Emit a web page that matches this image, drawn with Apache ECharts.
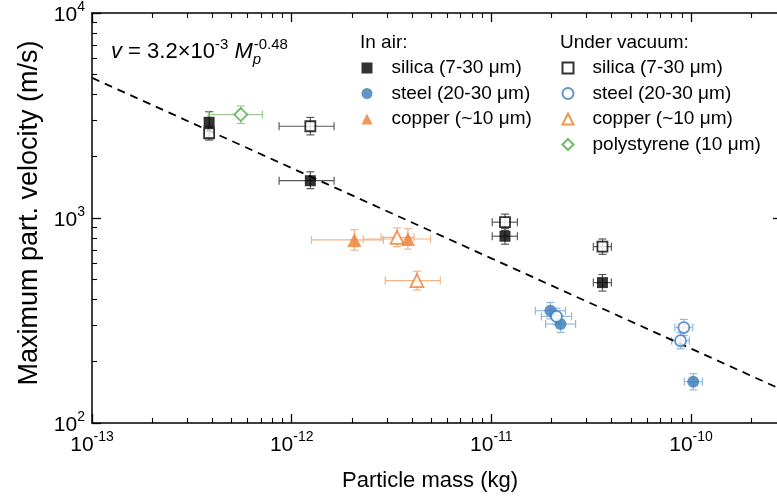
<!DOCTYPE html>
<html><head><meta charset="utf-8">
<script src="https://cdn.jsdelivr.net/npm/echarts@6/dist/echarts.min.js"></script>
<style>html,body{margin:0;padding:0;background:#fff}#c{width:777px;height:498px}</style>
</head><body><div id="c"></div>
<script>
const FONT = '"Liberation Sans", Arial, Helvetica, sans-serif';

// ---- axis ranges & ticks ----
const xRange = [1e-13, 2.757e-10];
const yRange = [100, 10000];
const xMajorTicks = [1e-13, 1e-12, 1e-11, 1e-10];
const xMinorTicks = [2e-13,3e-13,4e-13,5e-13,6e-13,7e-13,8e-13,9e-13,
                     2e-12,3e-12,4e-12,5e-12,6e-12,7e-12,8e-12,9e-12,
                     2e-11,3e-11,4e-11,5e-11,6e-11,7e-11,8e-11,9e-11,
                     2e-10];
const yMajorTicks = [100, 1000, 10000];
const yMinorTicks = [200,300,400,500,600,700,800,900,2000,3000,4000,5000,6000,7000,8000,9000];

// ---- data (mass kg, velocity m/s, error bounds) ----
// In air: silica
const airSilicaMass   = [3.86e-13, 1.24e-12, 1.17e-11, 3.60e-11];
const airSilicaVel    = [2930, 1520, 815, 484];
const airSilicaMassLo = [3.86e-13, 8.65e-13, 1.01e-11, 3.24e-11];
const airSilicaMassHi = [3.86e-13, 1.63e-12, 1.35e-11, 3.99e-11];
const airSilicaVelLo  = [2650, 1390, 745, 440];
const airSilicaVelHi  = [3300, 1680, 890, 530];
// In air: steel
const airSteelMass   = [1.975e-11, 2.22e-11, 1.026e-10];
const airSteelVel    = [353, 304, 159];
const airSteelMassLo = [1.66e-11, 1.87e-11, 9.25e-11];
const airSteelMassHi = [2.35e-11, 2.64e-11, 1.14e-10];
const airSteelVelLo  = [322, 277, 145];
const airSteelVelHi  = [387, 333, 174];
// In air: copper
const airCopperMass   = [2.06e-12, 3.82e-12];
const airCopperVel    = [782, 790];
const airCopperMassLo = [1.256e-12, 2.28e-12];
const airCopperMassHi = [2.88e-12, 4.96e-12];
const airCopperVelLo  = [697, 705];
const airCopperVelHi  = [877, 886];
// Vacuum: silica
const vacSilicaMass   = [3.86e-13, 1.24e-12, 1.17e-11, 3.60e-11];
const vacSilicaVel    = [2590, 2802, 954, 725];
const vacSilicaMassLo = [3.86e-13, 8.65e-13, 1.01e-11, 3.24e-11];
const vacSilicaMassHi = [3.86e-13, 1.63e-12, 1.35e-11, 3.99e-11];
const vacSilicaVelLo  = [2400, 2544, 870, 665];
const vacSilicaVelHi  = [2800, 3095, 1045, 790];
// Vacuum: steel
const vacSteelMass   = [2.12e-11, 9.2e-11, 8.86e-11];
const vacSteelVel    = [331, 292, 252];
const vacSteelMassLo = [1.78e-11, 8.3e-11, 8.0e-11];
const vacSteelMassHi = [2.52e-11, 1.02e-10, 9.8e-11];
const vacSteelVelLo  = [302, 267, 230];
const vacSteelVelHi  = [363, 320, 276];
// Vacuum: copper
const vacCopperMass   = [3.37e-12, 4.24e-12];
const vacCopperVel    = [805, 495];
const vacCopperMassLo = [2.8e-12, 2.94e-12];
const vacCopperMassHi = [4.1e-12, 5.55e-12];
const vacCopperVelLo  = [725, 445];
const vacCopperVelHi  = [895, 550];
// Vacuum: polystyrene
const vacPsMass   = [5.56e-13];
const vacPsVel    = [3197];
const vacPsMassLo = [3.82e-13];
const vacPsMassHi = [7.13e-13];
const vacPsVelLo  = [2890];
const vacPsVelHi  = [3520];
// Fit line endpoints
const fitMass = [1e-13, 2.757e-10];
const fitVel  = [4830, 147.5];

const legendLabels = {
  'air-silica': 'silica (7-30 \u03bcm)',
  'air-steel': 'steel (20-30 \u03bcm)',
  'air-copper': 'copper (~10 \u03bcm)',
  'vac-silica': 'silica (7-30 \u03bcm)',
  'vac-steel': 'steel (20-30 \u03bcm)',
  'vac-copper': 'copper (~10 \u03bcm)',
  'vac-ps': 'polystyrene (10 \u03bcm)'
};

const C_BLACK = '#000000', C_BLUE = '#3A7BBA', C_ORANGE = '#EE7D32', C_GREEN = '#4FA84A';
const E_BLACK = '#5a5a5a', E_BLUE = '#93B8DE', E_ORANGE = '#F3B489', E_GREEN = '#9ECD90';

function pts(m, v) { return m.map((x, i) => [x, v[i]]); }
function errRows(m, v, ml, mh, vl, vh) { return m.map((x, i) => [x, v[i], ml[i], mh[i], vl[i], vh[i]]); }

function makeErr(color) {
  return function (params, api) {
    const x = api.value(0), y = api.value(1);
    const a = api.coord([api.value(2), y]), b = api.coord([api.value(3), y]);
    const lo = api.coord([x, api.value(4)]), hi = api.coord([x, api.value(5)]);
    const cap = 4;
    const st = { stroke: color, lineWidth: 1.2 };
    const ch = [];
    if (b[0] - a[0] > 1) {
      ch.push({ type: 'line', shape: { x1: a[0], y1: a[1], x2: b[0], y2: b[1] }, style: st });
      ch.push({ type: 'line', shape: { x1: a[0], y1: a[1] - cap, x2: a[0], y2: a[1] + cap }, style: st });
      ch.push({ type: 'line', shape: { x1: b[0], y1: b[1] - cap, x2: b[0], y2: b[1] + cap }, style: st });
    }
    if (lo[1] - hi[1] > 1) {
      ch.push({ type: 'line', shape: { x1: lo[0], y1: lo[1], x2: hi[0], y2: hi[1] }, style: st });
      ch.push({ type: 'line', shape: { x1: lo[0] - cap, y1: lo[1], x2: lo[0] + cap, y2: lo[1] }, style: st });
      ch.push({ type: 'line', shape: { x1: hi[0] - cap, y1: hi[1], x2: hi[0] + cap, y2: hi[1] }, style: st });
    }
    return { type: 'group', children: ch };
  };
}
function errSeries(color, rows) {
  return { type: 'custom', renderItem: makeErr(color), data: rows, encode: { x: 0, y: 1 },
           z: 1, silent: true, animation: false };
}
function scat(name, symbol, size, color, filled, data) {
  return { name, type: 'scatter', symbol, symbolSize: size, data, z: 3, animation: false,
           emphasis: { disabled: true },
           itemStyle: filled ? { color: color, borderWidth: 0 }
                             : { color: '#ffffff', borderColor: color, borderWidth: 1.8 } };
}

function expLabel(v) {
  const e = Math.round(Math.log10(v));
  return '{b|10}{s|' + e + '}';
}
const labelRich = {
  b: { fontSize: 21, fontFamily: FONT, color: '#000', lineHeight: 26, verticalAlign: 'bottom' },
  s: { fontSize: 14, fontFamily: FONT, color: '#000', lineHeight: 12, verticalAlign: 'top' }
};

function logAxis(extra, range) {
  return Object.assign({ type: 'log', logBase: 10, min: range[0], max: range[1],
    splitLine: { show: false }, minorTick: { show: false }, minorSplitLine: { show: false } }, extra);
}
const axLine = { show: true, lineStyle: { color: '#000', width: 1.5 } };
const noLine = { show: false };
const majTick = (vals) => ({ show: true, inside: true, length: 9, customValues: vals, lineStyle: { color: '#000', width: 1.3 } });
const minTick = (vals) => ({ show: true, inside: true, length: 5, customValues: vals, lineStyle: { color: '#000', width: 1.1 } });
const noLabel = { show: false };

const option = {
  backgroundColor: '#fff',
  animation: false,
  grid: { left: 92, top: 13, right: -2, bottom: 75, outerBoundsMode: 'none', containLabel: false },
  xAxis: [
    logAxis({ position: 'bottom', axisLine: axLine, axisTick: majTick(xMajorTicks),
      axisLabel: { show: true, customValues: xMajorTicks, formatter: expLabel, rich: labelRich, margin: 7 } }, xRange),
    logAxis({ position: 'bottom', axisLine: noLine, axisTick: minTick(xMinorTicks), axisLabel: noLabel }, xRange),
    logAxis({ position: 'top', axisLine: axLine, axisTick: majTick(xMajorTicks), axisLabel: noLabel }, xRange),
    logAxis({ position: 'top', axisLine: noLine, axisTick: minTick(xMinorTicks), axisLabel: noLabel }, xRange)
  ],
  yAxis: [
    logAxis({ position: 'left', axisLine: axLine, axisTick: majTick(yMajorTicks),
      axisLabel: { show: true, customValues: yMajorTicks, formatter: expLabel, rich: labelRich, margin: 7 } }, yRange),
    logAxis({ position: 'left', axisLine: noLine, axisTick: minTick(yMinorTicks), axisLabel: noLabel }, yRange),
    logAxis({ position: 'right', axisLine: noLine, axisTick: { show: true, inside: true, length: 6, customValues: [1000],
      lineStyle: { color: '#000', width: 1.3 } }, axisLabel: noLabel }, yRange)
  ],
  legend: [
    { data: ['air-silica', 'air-steel', 'air-copper'], orient: 'vertical', left: 361.5, top: 57,
      itemWidth: 11, itemHeight: 11, itemGap: 3.5, padding: 0, selectedMode: false,
      formatter: n => legendLabels[n],
      textStyle: { fontSize: 19, lineHeight: 22, fontFamily: FONT, color: '#000', padding: [0, 0, 0, 14] } },
    { data: ['vac-silica', 'vac-steel', 'vac-copper', 'vac-ps'], orient: 'vertical', left: 561.5, top: 57,
      itemWidth: 11, itemHeight: 11, itemGap: 3.5, padding: 0, selectedMode: false,
      formatter: n => legendLabels[n],
      textStyle: { fontSize: 19, lineHeight: 22, fontFamily: FONT, color: '#000', padding: [0, 0, 0, 14] } }
  ],
  graphic: [
    { type: 'text', left: 360, top: 33, style: { text: 'In air:', fontSize: 19, fontFamily: FONT, fill: '#000' } },
    { type: 'text', left: 560, top: 33, style: { text: 'Under vacuum:', fontSize: 19, fontFamily: FONT, fill: '#000' } },
    { type: 'text', x: 430, y: 481, style: { text: 'Particle mass (kg)', fontSize: 22, fontFamily: FONT, fill: '#000',
        align: 'center', verticalAlign: 'middle' } },
    { type: 'text', x: 30, y: 213, rotation: Math.PI / 2, style: { text: 'Maximum part. velocity (m/s)', fontSize: 27,
        fontFamily: FONT, fill: '#000', align: 'center', verticalAlign: 'middle' } },
    { type: 'text', x: 111, y: 52, style: {
        text: '{i|v}{n| = 3.2×10}{s|-3}{n| }{i|M}{p|p}{s|-0.48}',
        align: 'left', verticalAlign: 'middle',
        rich: {
          n: { fontSize: 22, fontFamily: FONT, fill: '#000', lineHeight: 30, verticalAlign: 'middle' },
          i: { fontSize: 22, fontFamily: FONT, fontStyle: 'italic', fill: '#000', lineHeight: 30, verticalAlign: 'middle' },
          s: { fontSize: 15, fontFamily: FONT, fill: '#000', lineHeight: 16, verticalAlign: 'top' },
          p: { fontSize: 15, fontFamily: FONT, fontStyle: 'italic', fill: '#000', lineHeight: 14, verticalAlign: 'bottom', width: 1 }
        } } }
  ],
  series: [
    { name: 'fit', type: 'line', data: pts(fitMass, fitVel), symbol: 'none', z: 2, silent: true, animation: false,
      lineStyle: { color: '#000', width: 1.8, type: [8, 6] } },
    errSeries(E_BLACK, errRows(airSilicaMass, airSilicaVel, airSilicaMassLo, airSilicaMassHi, airSilicaVelLo, airSilicaVelHi)),
    errSeries(E_BLACK, errRows(vacSilicaMass, vacSilicaVel, vacSilicaMassLo, vacSilicaMassHi, vacSilicaVelLo, vacSilicaVelHi)),
    errSeries(E_BLUE, errRows(airSteelMass, airSteelVel, airSteelMassLo, airSteelMassHi, airSteelVelLo, airSteelVelHi)),
    errSeries(E_BLUE, errRows(vacSteelMass, vacSteelVel, vacSteelMassLo, vacSteelMassHi, vacSteelVelLo, vacSteelVelHi)),
    errSeries(E_ORANGE, errRows(airCopperMass, airCopperVel, airCopperMassLo, airCopperMassHi, airCopperVelLo, airCopperVelHi)),
    errSeries(E_ORANGE, errRows(vacCopperMass, vacCopperVel, vacCopperMassLo, vacCopperMassHi, vacCopperVelLo, vacCopperVelHi)),
    errSeries(E_GREEN, errRows(vacPsMass, vacPsVel, vacPsMassLo, vacPsMassHi, vacPsVelLo, vacPsVelHi)),
    scat('air-silica', 'rect', 11, C_BLACK, true, pts(airSilicaMass, airSilicaVel)),
    scat('air-steel', 'circle', 12, C_BLUE, true, pts(airSteelMass, airSteelVel)),
    scat('air-copper', 'triangle', 14, C_ORANGE, true, pts(airCopperMass, airCopperVel)),
    scat('vac-silica', 'rect', 10, C_BLACK, false, pts(vacSilicaMass, vacSilicaVel)),
    scat('vac-steel', 'circle', 11, C_BLUE, false, pts(vacSteelMass, vacSteelVel)),
    scat('vac-copper', 'triangle', 13, C_ORANGE, false, pts(vacCopperMass, vacCopperVel)),
    scat('vac-ps', 'diamond', 13, C_GREEN, false, pts(vacPsMass, vacPsVel))
  ]
};
const chart = echarts.init(document.getElementById('c'), null, { renderer: 'canvas' });
chart.setOption(option);
</script>
</body></html>
